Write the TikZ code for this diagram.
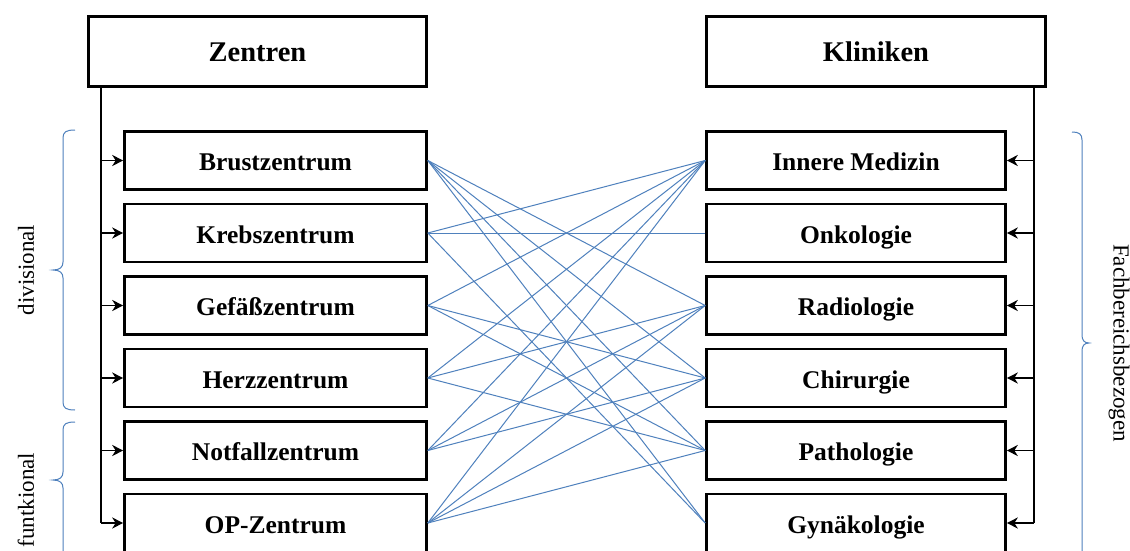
\documentclass[tikz,border=0pt]{standalone}
\usepackage{fontspec}
\setmainfont{Liberation Serif}
\usetikzlibrary{arrows.meta}
\definecolor{linkblue}{RGB}{79,129,189}
\begin{document}
\begin{tikzpicture}[x=1pt,y=-1pt,
  headbox/.style={draw, line width=2.6pt, minimum width=338pt, minimum height=70pt,
    inner sep=0pt, text height=23pt, text depth=2pt,
    font=\fontsize{28.5}{32}\selectfont\bfseries},
  unitbox/.style={draw, line width=2.6pt, minimum width=302pt, minimum height=58pt,
    inner sep=0pt, text height=22pt, text depth=2pt,
    font=\fontsize{25.5}{28}\selectfont\bfseries},
  trunk/.style={line width=1.8pt},
  feed/.style={line width=1.8pt, -{Stealth[length=11pt,width=11pt,inset=3.5pt]}},
  link/.style={linkblue, line width=1pt},
  brace/.style={linkblue, line width=1pt},
  sidelabel/.style={font=\fontsize{23}{26}\selectfont, inner sep=0pt}]
\clip (0,0) rectangle (1130,551);
\fill[white] (0,0) rectangle (1130,551);

% headings
\node[headbox] (Z) at (257.5,51.5) {Zentren};
\node[headbox, minimum width=339pt] (K) at (876,51.5) {Kliniken};

% centres (left column)
\node[unitbox] (b1) at (275.5,160.5) {Brustzentrum};
\node[unitbox] (b2) at (275.5,233)   {Krebszentrum};
\node[unitbox] (b3) at (275.5,305.5) {Gefäßzentrum};
\node[unitbox] (b4) at (275.5,378)   {Herzzentrum};
\node[unitbox] (b5) at (275.5,450.5) {Notfallzentrum};
\node[unitbox] (b6) at (275.5,523)   {OP-Zentrum};

% clinics (right column)
\node[unitbox, minimum width=299pt] (k1) at (856,160.5) {Innere Medizin};
\node[unitbox, minimum width=299pt] (k2) at (856,233)   {Onkologie};
\node[unitbox, minimum width=299pt] (k3) at (856,305.5) {Radiologie};
\node[unitbox, minimum width=299pt] (k4) at (856,378)   {Chirurgie};
\node[unitbox, minimum width=299pt] (k5) at (856,450.5) {Pathologie};
\node[unitbox, minimum width=299pt] (k6) at (856,523)   {Gynäkologie};

% distribution trunks
\coordinate (lx) at (101,0);
\coordinate (rx) at (1034,0);
\draw[trunk] (Z.south -| lx) -- (lx |- b6.west);
\draw[trunk] (K.south -| rx) -- (rx |- k6.east);
\foreach \i in {1,...,6}{
  \draw[feed] (lx |- b\i.west) -- (b\i.west);
  \draw[feed] (rx |- k\i.east) -- (k\i.east);
}

% links between centres and clinics
\foreach \a/\b in {1/3,1/4,1/5,1/6,
                   2/1,2/2,2/6,
                   3/1,3/4,3/5,
                   4/1,4/3,4/5,
                   5/1,5/3,5/4,
                   6/1,6/3,6/4,6/5}{
  \draw[link] (b\a.east) -- (k\b.west);
}

% braces and side labels
\draw[brace] (75,130) .. controls (66,130) and (63,132) .. (63,138) -- (63,262)
  .. controls (63,267) and (60,270) .. (53,270)
  .. controls (60,270) and (63,273) .. (63,278) -- (63,402)
  .. controls (63,408) and (66,410) .. (75,410);
\draw[brace] (75,422) .. controls (66,422) and (63,424) .. (63,430) -- (63,472)
  .. controls (63,477) and (60,480) .. (53,480)
  .. controls (60,480) and (63,483) .. (63,488) -- (63,560);
\draw[brace] (1072,132) .. controls (1079,132) and (1082,134) .. (1082,140) -- (1082,335)
  .. controls (1082,340) and (1084,343) .. (1089,343)
  .. controls (1084,343) and (1082,346) .. (1082,351) -- (1082,560);

\node[sidelabel, rotate=90] (dv) at (26,270) {divisional};
\node[sidelabel, rotate=90] (fk) at (26,500) {funtkional};
\node[sidelabel, rotate=-90] (fb) at (1119,343) {Fachbereichsbezogen};
\end{tikzpicture}
\end{document}
